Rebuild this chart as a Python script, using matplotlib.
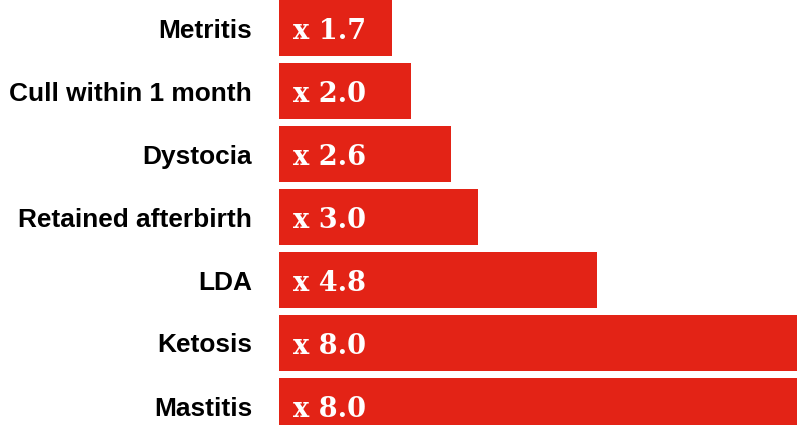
import matplotlib
matplotlib.use("Agg")
import matplotlib.pyplot as plt

categories = ["Metritis", "Cull within 1 month", "Dystocia", "Retained afterbirth", "LDA", "Ketosis", "Mastitis"]
values = [1.7, 2.0, 2.6, 3.0, 4.8, 8.0, 8.0]
bar_labels = ["x 1.7", "x 2.0", "x 2.6", "x 3.0", "x 4.8", "x 8.0", "x 8.0"]

W, H = 797, 425
fig = plt.figure(figsize=(W / 100, H / 100), dpi=100)
x0 = 279
ax = fig.add_axes([x0 / W, 0, 1 - x0 / W, 1])

pos = list(range(len(categories)))
ax.barh(pos, values, height=56 / 63, color="#e32316", edgecolor="none")

ax.set_xlim(0, (W - x0) / 66.2)
ax.set_ylim((H - 28) / 63, -28 / 63)

ax.set_yticks([])
ax.set_xticks([])
for s in ax.spines.values():
    s.set_visible(False)

for p, c in zip(pos, categories):
    ax.annotate(c, xy=(0, p), xytext=(-27, -9.5), textcoords="offset pixels",
                ha="right", va="baseline", color="#000000", fontsize=18.9,
                fontweight="bold", family=["Liberation Sans", "DejaVu Sans"],
                annotation_clip=False)

for p, t in zip(pos, bar_labels):
    ax.annotate(t, xy=(0, p), xytext=(14, -11), textcoords="offset pixels",
                ha="left", va="baseline", color="white", fontsize=19.5,
                fontweight="bold", family=["DejaVu Serif"])

fig.savefig("out.png", dpi=100)
